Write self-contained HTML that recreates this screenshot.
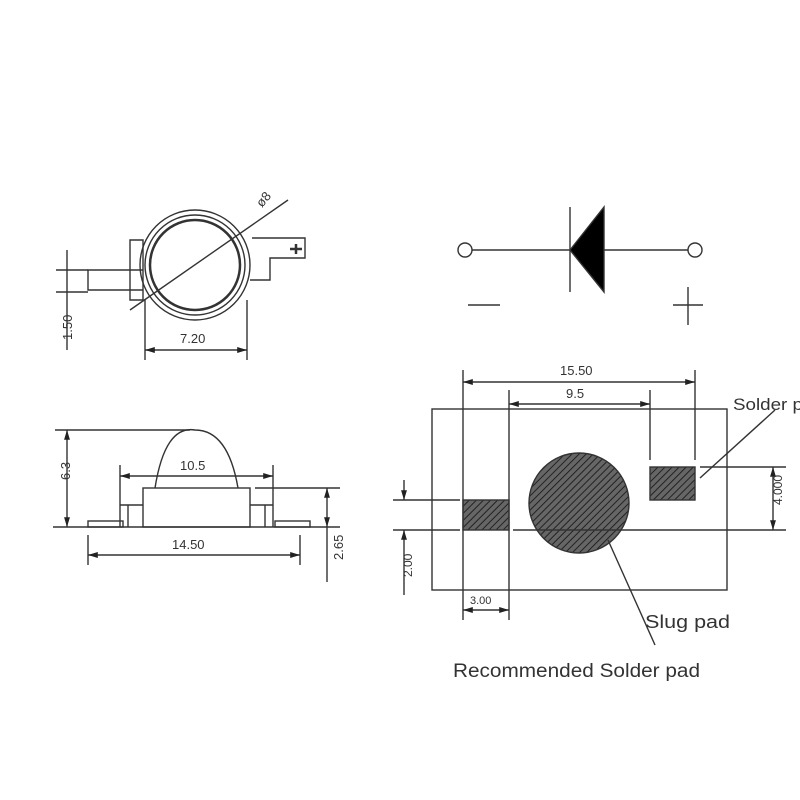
<!DOCTYPE html>
<html><head><meta charset="utf-8"><style>
html,body{margin:0;padding:0;background:#fff}
svg{display:block}
text{font-family:"Liberation Sans",sans-serif;fill:#333}
</style></head><body>
<svg width="800" height="800" viewBox="0 0 800 800" xmlns="http://www.w3.org/2000/svg">
<defs>
<pattern id="h" patternUnits="userSpaceOnUse" width="5" height="5" patternTransform="rotate(45)">
<rect width="5" height="5" fill="#666"/>
<line x1="0" y1="0" x2="0" y2="5" stroke="#222" stroke-width="2"/>
</pattern>
<marker id="a" viewBox="0 0 10 10" refX="10" refY="5" markerWidth="7" markerHeight="7" orient="auto-start-reverse"><path d="M0,2 L10,5 L0,8z" fill="#222"/></marker>
</defs>
<g stroke="#333" stroke-width="1.4" fill="none">
<circle cx="195" cy="265" r="55"/>
<circle cx="195" cy="265" r="50"/>
<circle cx="195" cy="265" r="45" stroke-width="2.5"/>
<path d="M143,270 L88,270 L88,290 L143,290"/>
<path d="M252,238 L305,238 L305,258 L270,258 L270,280 L250,280"/>
<path d="M130,240 L143,240 L143,300 L130,300z"/>
<line x1="296" y1="244" x2="296" y2="254" stroke-width="2.5"/><line x1="290" y1="249" x2="302" y2="249" stroke-width="2.5"/>
<line x1="130" y1="310" x2="288" y2="200"/>
<line x1="56" y1="270" x2="88" y2="270"/><line x1="56" y1="292" x2="88" y2="292"/>
<line x1="67" y1="250" x2="67" y2="350"/>
<line x1="145" y1="300" x2="145" y2="360"/><line x1="247" y1="300" x2="247" y2="360"/>
<line x1="145" y1="350" x2="247" y2="350" marker-start="url(#a)" marker-end="url(#a)"/>
<line x1="53" y1="527" x2="340" y2="527"/>
<rect x="143" y="488" width="107" height="39"/>
<path d="M155,488 Q165,425 195,430 Q228,430 238,488"/>
<line x1="55" y1="430" x2="190" y2="430"/>
<line x1="67" y1="430" x2="67" y2="527" marker-start="url(#a)" marker-end="url(#a)"/>
<line x1="120" y1="465" x2="120" y2="527"/><line x1="273" y1="465" x2="273" y2="527"/>
<line x1="120" y1="476" x2="273" y2="476" marker-start="url(#a)" marker-end="url(#a)"/>
<path d="M120,505 L143,505 M128,505 L128,527 M250,505 L273,505 M265,505 L265,527"/>
<rect x="88" y="521" width="35" height="6"/><rect x="275" y="521" width="35" height="6"/>
<line x1="255" y1="488" x2="340" y2="488"/>
<line x1="327" y1="488" x2="327" y2="527" marker-start="url(#a)" marker-end="url(#a)"/>
<line x1="327" y1="527" x2="327" y2="582"/>
<line x1="88" y1="535" x2="88" y2="565"/><line x1="300" y1="535" x2="300" y2="565"/>
<line x1="88" y1="555" x2="300" y2="555" marker-start="url(#a)" marker-end="url(#a)"/>
<circle cx="465" cy="250" r="7"/><circle cx="695" cy="250" r="7"/>
<line x1="472" y1="250" x2="570" y2="250"/><line x1="604" y1="250" x2="688" y2="250"/>
<line x1="570" y1="207" x2="570" y2="292"/>
<path d="M570,250 L604,207 L604,292z" fill="#000"/>
<line x1="468" y1="305" x2="500" y2="305"/>
<line x1="673" y1="305" x2="703" y2="305"/><line x1="688" y1="287" x2="688" y2="325"/>
<rect x="432" y="409" width="295" height="181"/>
<rect x="463" y="500" width="46" height="30" fill="url(#h)"/>
<rect x="650" y="467" width="45" height="33" fill="url(#h)"/>
<circle cx="579" cy="503" r="50" fill="url(#h)"/>
<line x1="463" y1="370" x2="463" y2="620"/><line x1="695" y1="370" x2="695" y2="460"/>
<line x1="463" y1="382" x2="695" y2="382" marker-start="url(#a)" marker-end="url(#a)"/>
<line x1="509" y1="390" x2="509" y2="620"/><line x1="650" y1="390" x2="650" y2="460"/>
<line x1="509" y1="404" x2="650" y2="404" marker-start="url(#a)" marker-end="url(#a)"/>
<line x1="393" y1="500" x2="460" y2="500"/><line x1="393" y1="530" x2="460" y2="530"/>
<line x1="513" y1="530" x2="786" y2="530"/><line x1="700" y1="467" x2="786" y2="467"/>
<line x1="773" y1="467" x2="773" y2="530" marker-start="url(#a)" marker-end="url(#a)"/>
<line x1="404" y1="480" x2="404" y2="500" marker-end="url(#a)"/>
<line x1="404" y1="530" x2="404" y2="595" marker-start="url(#a)"/>
<line x1="463" y1="610" x2="509" y2="610" marker-start="url(#a)" marker-end="url(#a)"/>
<line x1="608" y1="540" x2="655" y2="645"/>
<line x1="700" y1="478" x2="775" y2="410"/>
</g>
<text x="262" y="208" font-size="13" transform="rotate(-50 262 208)">ø8</text>
<text x="180" y="343" font-size="13">7.20</text>
<text x="60" y="352" font-size="13" transform="rotate(-90 60 340)">1.50</text>
<text x="60" y="490" font-size="13" transform="rotate(-90 60 480)">6.3</text>
<text x="180" y="470" font-size="13">10.5</text>
<text x="172" y="549" font-size="13">14.50</text>
<text x="343" y="560" font-size="13" transform="rotate(-90 343 560)">2.65</text>
<text x="560" y="375" font-size="13">15.50</text>
<text x="566" y="398" font-size="13">9.5</text>
<text x="470" y="604" font-size="11">3.00</text>
<text x="397" y="592" font-size="12" transform="rotate(-90 397 577)">2.00</text>
<text x="767" y="520" font-size="12" transform="rotate(-90 767 505)">4.000</text>
<text x="733" y="410" font-size="17" textLength="70" lengthAdjust="spacingAndGlyphs">Solder p</text>
<text x="645" y="628" font-size="18" textLength="85" lengthAdjust="spacingAndGlyphs">Slug pad</text>
<text x="453" y="677" font-size="19" textLength="247" lengthAdjust="spacingAndGlyphs">Recommended Solder pad</text>
</svg>
</body></html>
